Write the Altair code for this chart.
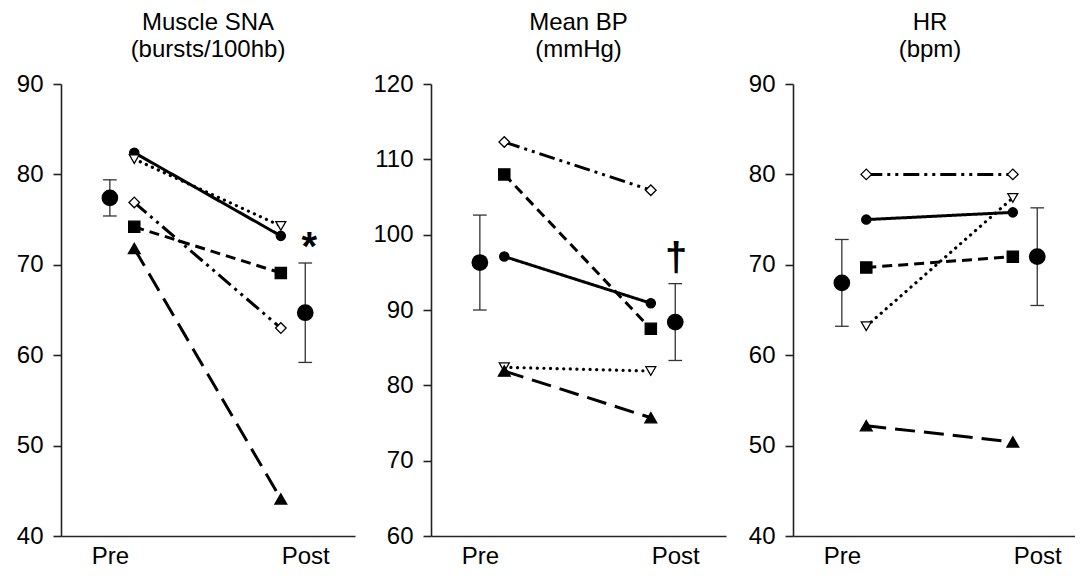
import altair as alt
import pandas as pd

FONT = "Liberation Sans"

subjects = ["S1", "S2", "S3", "S4", "S5"]
shapes = ["circle", "triangle-down", "diamond", "square", "triangle-up"]
fills = ["black", "white", "white", "black", "black"]
sizes = [85, 140, 150, 95, 130]
dashes = [[1, 0], [0.1, 6.5], [16, 5, 3, 5, 3, 5], [10, 6], [20, 9]]
dotted_subject = "S2"

phases = ["Pre", "Post"]

# Muscle SNA (bursts/100hb)
msna_pre = [82.4, 81.7, 76.9, 74.2, 71.8]
msna_post = [73.2, 74.3, 63.0, 69.1, 44.1]
msna_mean = [77.4, 64.7]
msna_se = [2.0, 5.5]

# Mean BP (mmHg)
bp_pre = [97.1, 82.4, 112.3, 108.0, 81.9]
bp_post = [90.9, 81.9, 105.9, 87.5, 75.7]
bp_mean = [96.3, 88.4]
bp_se = [6.3, 5.1]

# HR (bpm)
hr_pre = [75.0, 63.2, 80.0, 69.7, 52.2]
hr_post = [75.8, 77.4, 80.0, 70.9, 50.4]
hr_mean = [68.0, 70.9]
hr_se = [4.8, 5.4]

X_PRE, X_POST = 1.0, 2.0
X_SUBJ_PRE, X_SUBJ_POST = 1.125, 1.875
CAP = 0.035


def panel(title_lines, pre, post, mean, se, ydom, yticks, extent, width, xmax,
          title_dx=0, annot=None):
    subj = pd.DataFrame({
        "subject": subjects * 2,
        "x": [X_SUBJ_PRE] * len(pre) + [X_SUBJ_POST] * len(post),
        "value": pre + post,
    })
    grp = pd.DataFrame({
        "x": [X_PRE, X_POST],
        "mean": mean,
        "lo": [m - s for m, s in zip(mean, se)],
        "hi": [m + s for m, s in zip(mean, se)],
    })
    grp["capl"] = grp["x"] - CAP
    grp["capr"] = grp["x"] + CAP

    xscale = alt.Scale(domain=[0.75, xmax], nice=False, zero=False)
    yscale = alt.Scale(domain=ydom, nice=False, zero=False)
    xaxis = alt.Axis(values=[1, 2], labelExpr="datum.value == 1 ? 'Pre' : 'Post'",
                     ticks=False, grid=False, title=None, labelFontSize=24,
                     labelFont=FONT, labelColor="black", domainColor="#222",
                     domainWidth=1.6, labelPadding=8, labelFlush=False)
    yaxis = alt.Axis(values=yticks, grid=False, title=None, tickSize=8,
                     tickColor="#222", tickWidth=1.6, domainColor="#222",
                     domainWidth=1.6, labelFontSize=24, labelFont=FONT,
                     labelColor="black", labelPadding=10,
                     minExtent=extent, maxExtent=extent)
    X = lambda f: alt.X(f, type="quantitative", scale=xscale, axis=xaxis)
    Y = lambda f: alt.Y(f, type="quantitative", scale=yscale, axis=yaxis)

    base_g = alt.Chart(grp)
    err = base_g.mark_rule(color="#333", strokeWidth=1.3).encode(
        x=X("x"), y=Y("lo"), y2="hi")
    cap_lo = base_g.mark_rule(color="#333", strokeWidth=1.3).encode(
        x=X("capl"), x2="capr", y=Y("lo"))
    cap_hi = base_g.mark_rule(color="#333", strokeWidth=1.3).encode(
        x=X("capl"), x2="capr", y=Y("hi"))
    means = base_g.mark_circle(color="black", size=280, opacity=1).encode(
        x=X("x"), y=Y("mean"))

    base_s = alt.Chart(subj)
    dash_scale = alt.Scale(domain=subjects, range=dashes)
    lines = base_s.transform_filter(alt.datum.subject != dotted_subject).mark_line(
        color="black", strokeWidth=3).encode(
        x=X("x"), y=Y("value"), detail="subject:N",
        strokeDash=alt.StrokeDash("subject:N", scale=dash_scale, legend=None))
    dotted = base_s.transform_filter(alt.datum.subject == dotted_subject).mark_line(
        color="black", strokeWidth=3.2, strokeCap="round").encode(
        x=X("x"), y=Y("value"), detail="subject:N",
        strokeDash=alt.StrokeDash("subject:N", scale=dash_scale, legend=None))
    pts = base_s.mark_point(filled=True, stroke="black", strokeWidth=1.3,
                            opacity=1).encode(
        x=X("x"), y=Y("value"),
        shape=alt.Shape("subject:N", scale=alt.Scale(domain=subjects, range=shapes),
                        legend=None),
        fill=alt.Fill("subject:N", scale=alt.Scale(domain=subjects, range=fills),
                      legend=None),
        size=alt.Size("subject:N", scale=alt.Scale(domain=subjects, range=sizes),
                      legend=None))

    layers = [err, cap_lo, cap_hi, means, lines, dotted, pts]
    if annot is not None:
        sym, ax, ay, fs, dy = annot
        adf = pd.DataFrame({"x": [ax], "y": [ay], "t": [sym]})
        txt = alt.Chart(adf).mark_text(font=FONT, fontSize=fs, fontWeight="bold",
                                       color="black", baseline="alphabetic",
                                       dy=dy).encode(
            x=X("x"), y=Y("y"), text="t:N")
        layers.append(txt)

    return alt.layer(*layers).properties(
        width=width, height=452,
        title=alt.TitleParams(text=title_lines, fontSize=24, font=FONT,
                              fontWeight="normal", color="black", anchor="middle",
                              frame="group", lineHeight=27, offset=10, dx=title_dx))


p1 = panel(["Muscle SNA", "(bursts/100hb)"], msna_pre, msna_post, msna_mean, msna_se,
           [40, 90], [40, 50, 60, 70, 80, 90], 48, 294, 0.75 + 294 / 195.4,
           annot=("*", 2.02, 73.1, 40, 23))
p2 = panel(["Mean BP", "(mmHg)"], bp_pre, bp_post, bp_mean, bp_se,
           [60, 120], [60, 70, 80, 90, 100, 110, 120], 76, 295, 0.75 + 295 / 195.4,
           annot=("†", 2.005, 96.9, 40, 13))
p3 = panel(["HR", "(bpm)"], hr_pre, hr_post, hr_mean, hr_se,
           [40, 90], [40, 50, 60, 70, 80, 90], 67, 282, 0.75 + 282 / 195.4,
           title_dx=-4)

chart = alt.hconcat(p1, p2, p3, spacing=0).properties(
    padding={"left": 5, "top": 3, "right": 0, "bottom": 0},
    background="white",
).configure_view(stroke=None)

chart.save("out.html", embed_options={"renderer": "svg", "actions": False})
